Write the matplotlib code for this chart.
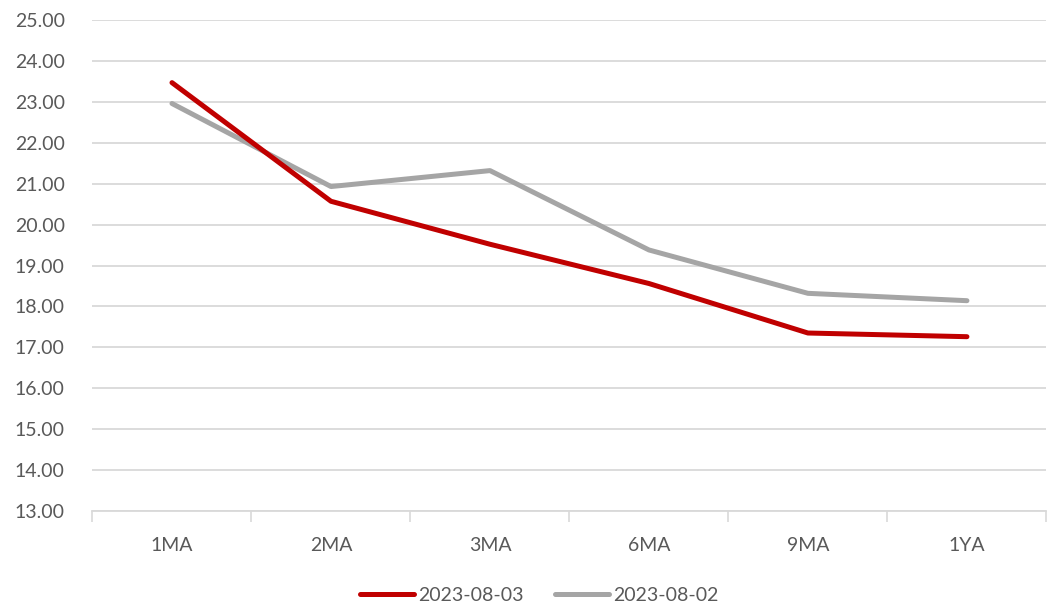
import matplotlib.pyplot as plt
import numpy as np

# --- data ---
categories = ["1MA", "2MA", "3MA", "6MA", "9MA", "1YA"]
vol_0803 = [23.47, 20.57, 19.52, 18.56, 17.35, 17.26]
vol_0802 = [22.96, 20.93, 21.32, 19.38, 18.32, 18.14]
labels = ["2023-08-03", "2023-08-02"]

plt.rcParams['font.family'] = ['Lato', 'DejaVu Sans']

text_color = '#595959'
grid_color = '#D9D9D9'

fig = plt.figure(figsize=(10.57, 6.11), dpi=100)
ax = fig.add_axes([0.0875, 0.1637, 0.9025, 0.8035])

x = np.arange(len(categories))
ax.plot(x, vol_0803, color='#C00000', linewidth=3.6, solid_capstyle='round',
        solid_joinstyle='round', label=labels[0], zorder=3)
ax.plot(x, vol_0802, color='#A5A5A5', linewidth=3.6, solid_capstyle='round',
        solid_joinstyle='round', label=labels[1], zorder=2)

ax.set_ylim(13, 25)
ax.set_yticks(np.arange(13, 25.01, 1))
ax.yaxis.set_major_formatter(plt.FuncFormatter(lambda v, p: f"{v:.2f}"))
ax.set_xlim(-0.5, len(categories) - 0.5)
ax.set_xticks(x)
ax.set_xticklabels(categories)

# category boundary ticks
ax.set_xticks(np.arange(-0.5, len(categories), 1), minor=True)
ax.tick_params(axis='x', which='major', length=0, pad=19, labelsize=14, colors=text_color)
ax.tick_params(axis='x', which='minor', length=8, width=1.2, color=grid_color)
ax.tick_params(axis='y', length=0, pad=20, labelsize=14, colors=text_color)

ax.grid(axis='y', color=grid_color, linewidth=1.3, zorder=0)
ax.set_axisbelow(True)
for side in ['top', 'right', 'left']:
    ax.spines[side].set_visible(False)
ax.spines['bottom'].set_color(grid_color)
ax.spines['bottom'].set_linewidth(1.3)

leg = ax.legend(loc='lower center', bbox_to_anchor=(0.468, -0.225), ncol=2, frameon=False,
                fontsize=14, handlelength=2.8, handletextpad=0.2, columnspacing=1.6)
for t in leg.get_texts():
    t.set_color(text_color)

fig.savefig('out.png', dpi=100)
